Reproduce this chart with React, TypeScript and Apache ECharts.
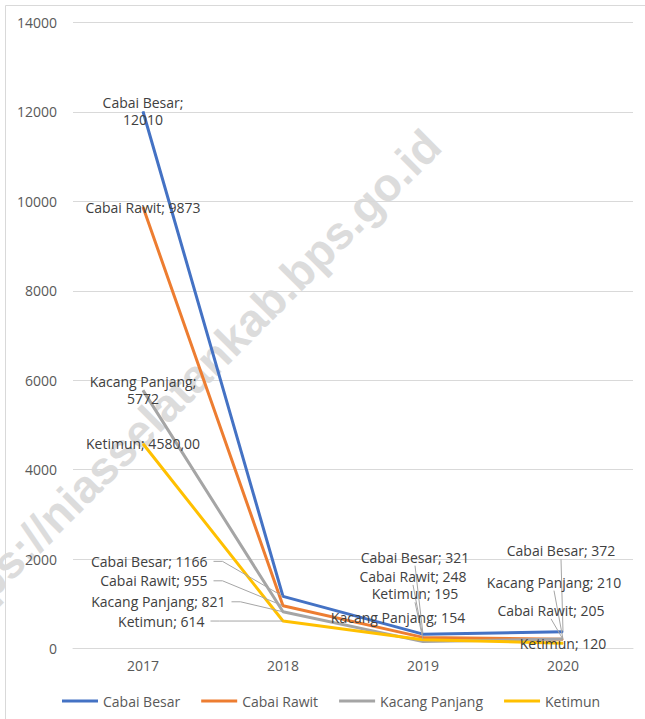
import React, { useEffect, useRef } from "react";
import * as echarts from "echarts";

const years = ["2017", "2018", "2019", "2020"];
const seriesNames = ["Cabai Besar", "Cabai Rawit", "Kacang Panjang", "Ketimun"];
const cabaiBesar = [12010, 1166, 321, 372];
const cabaiRawit = [9873, 955, 248, 205];
const kacangPanjang = [5772, 821, 154, 210];
const ketimun = [4580, 614, 195, 120];
const yMin = 0;
const yMax = 14000;
const yInterval = 2000;
const colors = ["#4472C4", "#ED7D31", "#A5A5A5", "#FFC000"];
const watermark = "https://niasselatankab.bps.go.id";

// label placement (layout only): [dx, dy] per series / year
const labelOffsets = [
  [[0, 0], [-69, -35], [-8, -77], [-2, -81]],
  [[0, 0], [-69, -25], [-10, -61], [-12, -29]],
  [[0, 0], [-51, -10], [-25, -24], [-9, -57]],
  [[0, 0], [-72, 0], [-8, -46], [0, 0]],
];
const labelLineShown = [
  [false, true, true, true],
  [false, true, true, true],
  [false, true, false, true],
  [false, true, true, false],
];

const FONT = "'Open Sans', 'Noto Sans', sans-serif";

export default function App() {
  const ref = useRef<HTMLDivElement>(null);
  useEffect(() => {
    document.body.style.margin = "0";
    const chart = echarts.init(ref.current!, undefined, { renderer: "svg" });
    const allValues = [cabaiBesar, cabaiRawit, kacangPanjang, ketimun];
    const series = allValues.map((vals, si) => ({
      name: seriesNames[si],
      type: "line",
      data: vals.map((v, di) => ({
        value: v,
        label:
          di === 1
            ? { position: "left", padding: [0, 6, 0, 0] }
            : { position: "inside" },
        labelLine: { show: labelLineShown[si][di], length2: di === 1 ? 9 : 0 },
      })),
      showSymbol: true,
      symbol: "circle",
      symbolSize: 1,
      itemStyle: { color: colors[si] },
      lineStyle: { color: colors[si], width: 3 },
      emphasis: { disabled: true },
      label: {
        show: true,
        distance: 0,
        color: "#404040",
        fontSize: 14,
        fontFamily: FONT,
        lineHeight: 17,
        formatter: (p: any) => {
          const name = p.seriesName;
          const v = p.value;
          if (p.dataIndex === 0) {
            if (si === 0 || si === 2) return `${name};\n${v}`;
            if (si === 3) return `${name}; ${v},00`;
          }
          return `${name}; ${v}`;
        },
      },
      labelLine: {
        show: true,
        lineStyle: { color: "#A6A6A6", width: 1 },
      },
      labelLayout: (p: any) => {
        const o = labelOffsets[si][p.dataIndex];
        return { dx: o[0], dy: o[1] };
      },
    }));

    chart.setOption({
      animation: false,
      color: colors,
      textStyle: { fontFamily: FONT },
      grid: { left: 73, right: 12, top: 22.5, bottom: 70.5 },
      xAxis: {
        type: "category",
        data: years,
        boundaryGap: true,
        axisLine: { lineStyle: { color: "#D9D9D9", width: 1 } },
        axisTick: { show: false },
        axisLabel: { color: "#595959", fontSize: 14, fontFamily: FONT, margin: 10 },
      },
      yAxis: {
        type: "value",
        min: yMin,
        max: yMax,
        interval: yInterval,
        axisLine: { show: false },
        axisTick: { show: false },
        splitLine: { lineStyle: { color: "#D9D9D9", width: 1 } },
        axisLabel: {
          color: "#595959",
          fontSize: 14,
          fontFamily: FONT,
          margin: 16,
          formatter: (v: number) => String(v),
        },
      },
      legend: {
        data: seriesNames,
        left: 57,
        top: 689,
        icon: "rect",
        itemWidth: 36,
        itemHeight: 3,
        itemGap: 21,
        textStyle: { color: "#595959", fontSize: 14, fontFamily: FONT },
      },
      graphic: [
        {
          type: "rect",
          z: -10,
          shape: { x: 5.5, y: 5.5, width: 700, height: 800 },
          style: { fill: "none", stroke: "#D9D9D9", lineWidth: 1 },
        },
        {
          type: "text",
          z: -5,
          x: 449,
          y: 154,
          rotation: (45 * Math.PI) / 180,
          style: {
            text: watermark,
            align: "right",
            verticalAlign: "bottom",
            fontSize: 46,
            fontWeight: "bold",
            fontFamily: "'Liberation Sans', Arial, sans-serif",
            fill: "#DCDCDC",
          },
        },
      ],
      series,
    });
    return () => chart.dispose();
  }, []);
  return (
    <div
      ref={ref}
      style={{ position: "absolute", left: 0, top: 0, width: 645, height: 719 }}
    />
  );
}
